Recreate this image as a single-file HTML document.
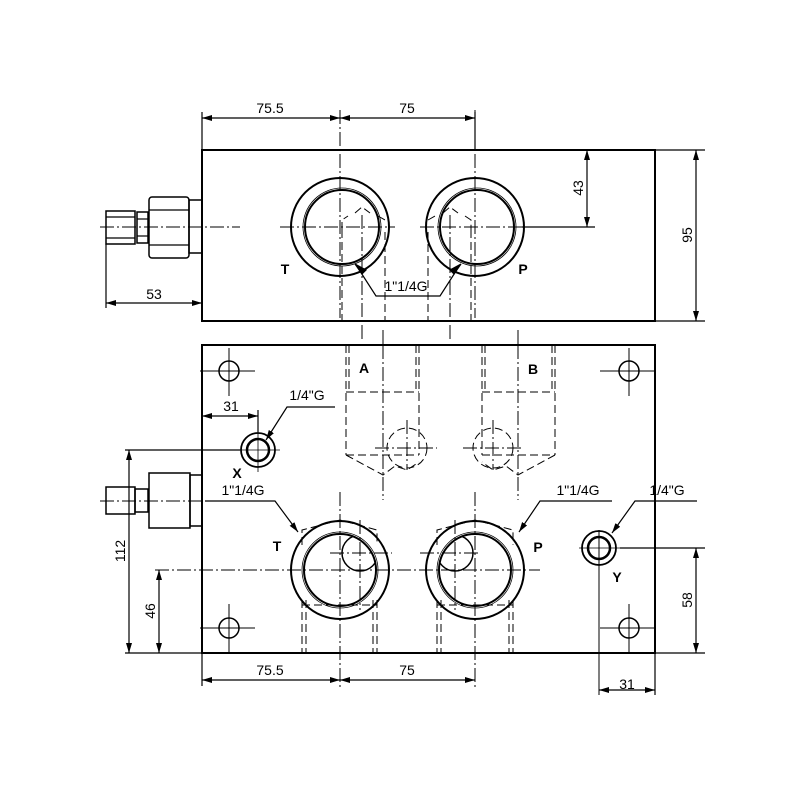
<!DOCTYPE html>
<html><head><meta charset="utf-8"><style>
html,body{margin:0;padding:0;background:#fff;}
svg{display:block;}
text{font-family:"Liberation Sans",sans-serif;font-size:14px;fill:#000;}
</style></head><body>
<svg width="800" height="800" viewBox="0 0 800 800" xmlns="http://www.w3.org/2000/svg">
<defs>
<marker id="a" viewBox="0 0 10 6" refX="10" refY="3" markerWidth="10" markerHeight="6" orient="auto-start-reverse" markerUnits="userSpaceOnUse"><path d="M0,0 L10,3 L0,6 z" fill="#000"/></marker>
<clipPath id="cT"><circle cx="340" cy="570" r="37"/></clipPath>
<clipPath id="cP"><circle cx="475" cy="570" r="37"/></clipPath>
</defs>
<g fill="none" stroke="#000" stroke-width="1.2">
<rect x="202" y="150" width="453" height="171" stroke-width="2"/>
<rect x="106" y="211" width="29" height="33" stroke-width="1.5"/>
<line x1="106" y1="217" x2="135" y2="217"/><line x1="106" y1="238" x2="135" y2="238"/>
<rect x="137" y="212" width="11" height="31" stroke-width="1.5"/>
<line x1="137" y1="219" x2="148" y2="219"/><line x1="137" y1="236" x2="148" y2="236"/>
<rect x="149" y="197" width="40" height="61" rx="3" stroke-width="1.5"/>
<line x1="149" y1="210" x2="189" y2="210"/><line x1="149" y1="245" x2="189" y2="245"/>
<rect x="189" y="200" width="13" height="53" stroke-width="1.5"/>
<circle cx="340" cy="227" r="49" stroke-width="2"/>
<circle cx="342" cy="227" r="37" stroke-width="2"/>
<circle cx="342" cy="227" r="39" stroke-width="0.8"/>
<circle cx="475" cy="227" r="49" stroke-width="2"/>
<circle cx="477" cy="227" r="37" stroke-width="2"/>
<circle cx="477" cy="227" r="39" stroke-width="0.8"/>
<g stroke-dasharray="14,3,2,3" stroke-width="1">
<line x1="100" y1="227" x2="240" y2="227"/>
<line x1="280" y1="227" x2="395" y2="227"/>
<line x1="420" y1="227" x2="540" y2="227"/>
<line x1="340" y1="110" x2="340" y2="318"/>
<line x1="475" y1="110" x2="475" y2="318"/>
<line x1="362" y1="215" x2="362" y2="340"/>
<line x1="450" y1="215" x2="450" y2="340"/>
<line x1="383" y1="330" x2="383" y2="345"/>
<line x1="518" y1="330" x2="518" y2="345"/>
</g>
<g stroke-dasharray="8,4" stroke-width="1">
<line x1="342" y1="230" x2="342" y2="321"/>
<line x1="385" y1="232" x2="385" y2="321"/>
<line x1="428" y1="232" x2="428" y2="321"/>
<line x1="471" y1="230" x2="471" y2="321"/>
<path d="M342,230 L342,220 L348,216"/><path d="M355,213 L362,207 L370,213"/><path d="M378,216 L385,220"/>
<path d="M428,220 L435,216"/><path d="M443,213 L450,207 L458,213"/><path d="M465,216 L471,220 L471,230"/>
</g>
<line x1="202" y1="150" x2="202" y2="112"/><line x1="475" y1="150" x2="475" y2="112"/>
<line x1="202" y1="118" x2="340" y2="118" marker-start="url(#a)" marker-end="url(#a)"/>
<line x1="340" y1="118" x2="475" y2="118" marker-start="url(#a)" marker-end="url(#a)"/>
<line x1="655" y1="150" x2="705" y2="150"/><line x1="655" y1="321" x2="705" y2="321"/>
<line x1="696" y1="150" x2="696" y2="321" marker-start="url(#a)" marker-end="url(#a)"/>
<line x1="587" y1="150" x2="587" y2="227" marker-start="url(#a)" marker-end="url(#a)"/>
<line x1="522" y1="227" x2="595" y2="227"/>
<line x1="106" y1="244" x2="106" y2="308"/>
<line x1="106" y1="303" x2="202" y2="303" marker-start="url(#a)" marker-end="url(#a)"/>
<path d="M358,268 L376,296 L440,296 L458,268" />
<path d="M355,264 L362,274 L366,270 z" fill="#000"/>
<path d="M461,264 L454,274 L450,270 z" fill="#000"/>

<rect x="202" y="345" width="453" height="308" stroke-width="2"/>
<rect x="106" y="487" width="29" height="27" stroke-width="1.5"/>
<rect x="135" y="489" width="13" height="23" stroke-width="1.5"/>
<rect x="149" y="473" width="41" height="55" stroke-width="1.5"/>
<rect x="190" y="475" width="12" height="51" stroke-width="1.5"/>
<circle cx="229" cy="371" r="10" stroke-width="1.5"/>
<circle cx="629" cy="371" r="10" stroke-width="1.5"/>
<circle cx="229" cy="628" r="10" stroke-width="1.5"/>
<circle cx="629" cy="628" r="10" stroke-width="1.5"/>
<g stroke-width="1">
<line x1="200" y1="371" x2="255" y2="371"/><line x1="229" y1="348" x2="229" y2="396"/>
<line x1="600" y1="371" x2="655" y2="371"/><line x1="629" y1="348" x2="629" y2="396"/>
<line x1="200" y1="628" x2="255" y2="628"/><line x1="229" y1="604" x2="229" y2="652"/>
<line x1="600" y1="628" x2="655" y2="628"/><line x1="629" y1="604" x2="629" y2="652"/>
</g>
<circle cx="258" cy="450" r="17" stroke-width="1.8"/>
<circle cx="258" cy="450" r="11" stroke-width="2.5"/>
<line x1="236" y1="450" x2="280" y2="450" stroke-width="0.8"/><line x1="258" y1="428" x2="258" y2="472" stroke-width="0.8"/>
<circle cx="599" cy="548" r="17" stroke-width="1.8"/>
<circle cx="599" cy="548" r="11" stroke-width="2.5"/>
<line x1="579" y1="548" x2="620" y2="548" stroke-width="0.8"/><line x1="599" y1="530" x2="599" y2="695" stroke-width="1"/>
<circle cx="340" cy="570" r="49" stroke-width="2"/>
<circle cx="340" cy="570" r="36" stroke-width="2"/>
<circle cx="340" cy="570" r="38" stroke-width="0.8"/>
<circle cx="360" cy="553" r="18" stroke-width="1.5" clip-path="url(#cT)"/>
<circle cx="475" cy="570" r="49" stroke-width="2"/>
<circle cx="475" cy="570" r="36" stroke-width="2"/>
<circle cx="475" cy="570" r="38" stroke-width="0.8"/>
<circle cx="455" cy="553" r="18" stroke-width="1.5" clip-path="url(#cP)"/>
<g stroke-dasharray="8,4" stroke-width="1">
<line x1="346" y1="345" x2="346" y2="455"/><line x1="349" y1="345" x2="349" y2="392"/>
<line x1="419" y1="345" x2="419" y2="455"/><line x1="416" y1="345" x2="416" y2="392"/>
<line x1="346" y1="392" x2="419" y2="392"/>
<path d="M346,455 L419,455"/><path d="M346,455 L383,475 L395,466 L407,470 L419,462"/>
<line x1="482" y1="345" x2="482" y2="455"/><line x1="485" y1="345" x2="485" y2="392"/>
<line x1="555" y1="345" x2="555" y2="455"/><line x1="552" y1="345" x2="552" y2="392"/>
<line x1="482" y1="392" x2="555" y2="392"/>
<path d="M482,455 L555,455"/><path d="M555,455 L518,475 L506,466 L493,470 L482,462"/>
<circle cx="407" cy="448" r="20"/><circle cx="493" cy="448" r="20"/>
<line x1="302" y1="600" x2="302" y2="653"/><line x1="306" y1="600" x2="306" y2="653"/>
<line x1="377" y1="600" x2="377" y2="653"/><line x1="373" y1="600" x2="373" y2="653"/>
<line x1="302" y1="605" x2="377" y2="605"/>
<line x1="437" y1="600" x2="437" y2="653"/><line x1="441" y1="600" x2="441" y2="653"/>
<line x1="513" y1="600" x2="513" y2="653"/><line x1="509" y1="600" x2="509" y2="653"/>
<line x1="437" y1="605" x2="513" y2="605"/>
<path d="M302,545 L302,530 L340,520 L377,530 L377,545"/>
<path d="M437,545 L437,530 L475,520 L513,530 L513,545"/>
</g>
<g stroke-dasharray="14,3,2,3" stroke-width="1">
<line x1="383" y1="345" x2="383" y2="500"/><line x1="518" y1="345" x2="518" y2="500"/>
<line x1="407" y1="420" x2="407" y2="470"/><line x1="493" y1="420" x2="493" y2="470"/>
<line x1="375" y1="448" x2="437" y2="448"/><line x1="463" y1="448" x2="523" y2="448"/>
<line x1="100" y1="501" x2="240" y2="501"/>
<line x1="340" y1="492" x2="340" y2="690"/><line x1="475" y1="492" x2="475" y2="690"/>
<line x1="360" y1="520" x2="360" y2="610"/><line x1="455" y1="520" x2="455" y2="610"/>
<line x1="330" y1="553" x2="392" y2="553"/><line x1="420" y1="553" x2="480" y2="553"/>
<line x1="155" y1="570" x2="540" y2="570"/>
</g>
<line x1="202" y1="653" x2="202" y2="686"/>
<line x1="202" y1="680" x2="340" y2="680" marker-start="url(#a)" marker-end="url(#a)"/>
<line x1="340" y1="680" x2="475" y2="680" marker-start="url(#a)" marker-end="url(#a)"/>
<line x1="655" y1="653" x2="655" y2="695"/>
<line x1="599" y1="690" x2="655" y2="690" marker-start="url(#a)" marker-end="url(#a)"/>
<line x1="620" y1="548" x2="705" y2="548"/><line x1="655" y1="653" x2="705" y2="653"/>
<line x1="696" y1="548" x2="696" y2="653" marker-start="url(#a)" marker-end="url(#a)"/>
<line x1="258" y1="410" x2="258" y2="432"/>
<line x1="202" y1="416" x2="258" y2="416" marker-start="url(#a)" marker-end="url(#a)"/>
<line x1="125" y1="450" x2="240" y2="450"/>
<line x1="125" y1="653" x2="202" y2="653"/>
<line x1="129" y1="450" x2="129" y2="653" marker-start="url(#a)" marker-end="url(#a)"/>
<line x1="159" y1="570" x2="159" y2="653" marker-start="url(#a)" marker-end="url(#a)"/>
<path d="M335,407 L287,407 L266,440" marker-end="url(#a)"/>
<path d="M205,501 L275,501 L298,532" marker-end="url(#a)"/>
<path d="M612,501 L540,501 L519,532" marker-end="url(#a)"/>
<path d="M697,501 L635,501 L612,533" marker-end="url(#a)"/>
</g>
<text x="270" y="113" text-anchor="middle">75.5</text>
<text x="407" y="113" text-anchor="middle">75</text>
<text x="154" y="299" text-anchor="middle">53</text>
<text x="406" y="291" text-anchor="middle">1"1/4G</text>
<text x="285" y="274" text-anchor="middle" font-weight="bold" font-size="15">T</text>
<text x="523" y="274" text-anchor="middle" font-weight="bold" font-size="15">P</text>
<text transform="translate(692,235) rotate(-90)" text-anchor="middle">95</text>
<text transform="translate(583,188) rotate(-90)" text-anchor="middle">43</text>
<text x="364" y="373" text-anchor="middle" font-weight="bold" font-size="15">A</text>
<text x="533" y="374" text-anchor="middle" font-weight="bold" font-size="15">B</text>
<text x="231" y="411" text-anchor="middle">31</text>
<text x="307" y="400" text-anchor="middle">1/4"G</text>
<text x="237" y="478" text-anchor="middle" font-weight="bold" font-size="15">X</text>
<text x="243" y="495" text-anchor="middle">1"1/4G</text>
<text x="277" y="551" text-anchor="middle" font-weight="bold" font-size="15">T</text>
<text x="538" y="552" text-anchor="middle" font-weight="bold" font-size="15">P</text>
<text x="578" y="495" text-anchor="middle">1"1/4G</text>
<text x="667" y="495" text-anchor="middle">1/4"G</text>
<text x="617" y="582" text-anchor="middle" font-weight="bold" font-size="15">Y</text>
<text transform="translate(125,551) rotate(-90)" text-anchor="middle">112</text>
<text transform="translate(155,611) rotate(-90)" text-anchor="middle">46</text>
<text transform="translate(692,600) rotate(-90)" text-anchor="middle">58</text>
<text x="270" y="675" text-anchor="middle">75.5</text>
<text x="407" y="675" text-anchor="middle">75</text>
<text x="627" y="689" text-anchor="middle">31</text>
</svg>
</body></html>
